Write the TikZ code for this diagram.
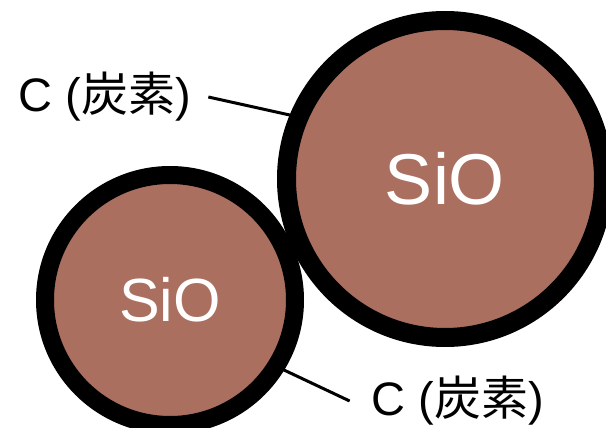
\documentclass[tikz,border=0pt]{standalone}
\usepackage{fontspec}
\setmainfont{Liberation Sans}
\newfontfamily\cjk{Noto Sans CJK JP}
\usetikzlibrary{positioning}
\definecolor{sio}{RGB}{170,111,95}

\begin{document}
\begin{tikzpicture}[x=1pt,y=-1pt,
    particle/.style={circle,draw=black,line width=19pt,fill=sio,inner sep=0pt,outer sep=0pt,text=white},
    lbl/.style={inner sep=0pt,font=\fontsize{47}{50}\selectfont}]
    \useasboundingbox (0,0) rectangle (606,428);
    \node[particle,minimum size=317pt,font=\fontsize{72}{76}\selectfont] (big) at (445,179) {SiO};
    \node[particle,minimum size=250pt,line width=18pt,font=\fontsize{61}{64}\selectfont] (small) at (170,300) {SiO};
    \node[lbl] (cTop) at (105,97) {C ({\cjk 炭素})};
    \node[lbl] (cBot) at (458,401) {C ({\cjk 炭素})};
    \draw[line width=3pt] ([xshift=17pt]cTop.east) -- (big.157.6);
    \draw[line width=3pt] ([xshift=-22pt]cBot.west) -- (small.-32.7);
\end{tikzpicture}
\end{document}
